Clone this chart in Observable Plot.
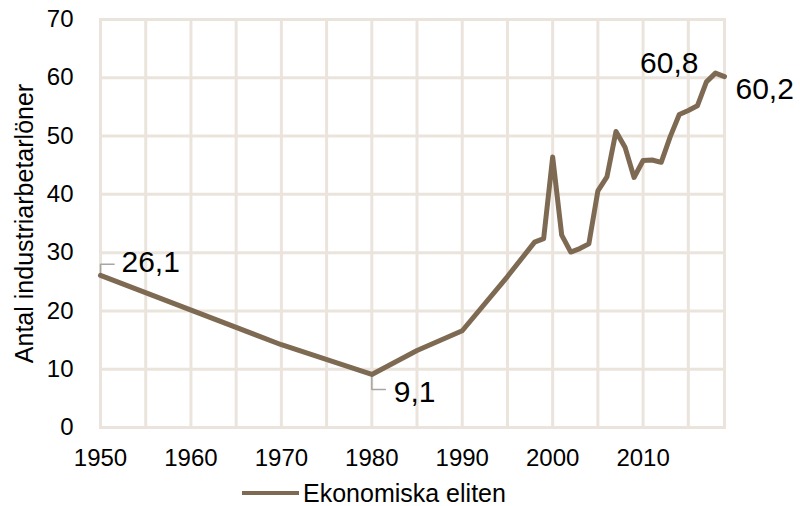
<!DOCTYPE html>
<html><head><meta charset="utf-8">
<script src="https://cdn.jsdelivr.net/npm/d3@7"></script>
<script src="https://cdn.jsdelivr.net/npm/@observablehq/plot@0.6"></script>
<style>
body{margin:0;background:#fff;font-family:"Liberation Sans",Arial,sans-serif;overflow:hidden;}
#wrap{position:relative;width:800px;height:506px;}
#legend{position:absolute;left:242px;top:481px;display:flex;align-items:center;font-size:25px;line-height:24px;height:24px;color:#000;white-space:nowrap;}
#legend .sw{display:inline-block;width:57px;height:4px;background:#7e6a53;margin-right:4px;}
</style></head><body>
<div id="wrap"><div id="chart"></div><div id="legend"><span class="sw"></span><span>Ekonomiska eliten</span></div></div>
<script>
const years  = [1950, 1970, 1980, 1985, 1990, 1995, 1998, 1999, 2000, 2001, 2002, 2003, 2004, 2005, 2006, 2007, 2008, 2009, 2010, 2011, 2012, 2013, 2014, 2015, 2016, 2017, 2018, 2019];
const values = [26.1, 14.2, 9.1, 13.2, 16.6, 25.9, 31.8, 32.4, 46.4, 33.0, 30.1, 30.7, 31.5, 40.6, 43.0, 50.8, 48.1, 42.9, 45.8, 45.9, 45.5, 49.9, 53.7, 54.4, 55.2, 59.3, 60.8, 60.2];
const xTicks = [1950, 1960, 1970, 1980, 1990, 2000, 2010];
const xGrid  = [1955, 1960, 1965, 1970, 1975, 1980, 1985, 1990, 1995, 2000, 2005, 2010, 2015];
const yTicks = [0, 10, 20, 30, 40, 50, 60, 70];
const labelYears = [1950, 1980, 2018, 2019];
const labelTexts = ["26,1", "9,1", "60,8", "60,2"];
const seriesName = "Ekonomiska eliten";
const yTitle = "Antal industriarbetarlöner";

const lineColor = "#7e6a53";
const gridColor = "#ebe4dc";

const data = years.map((year, i) => ({year, value: values[i]}));
const labels = labelYears.map((year, i) => ({year, value: values[years.indexOf(year)], text: labelTexts[i]}));
const lab = y => labels.filter(d => d.year === y);

const leaderUp = lab(1950).flatMap(d => [
  {year: d.year, value: d.value, k: "a"}, {year: d.year, value: d.value + 1.9, k: "a"}, {year: d.year + 1.5, value: d.value + 1.9, k: "a"}]);
const leaderDown = lab(1980).flatMap(d => [
  {year: d.year, value: d.value - 0.2, k: "b"}, {year: d.year, value: d.value - 2.6, k: "b"}, {year: d.year + 1.5, value: d.value - 2.6, k: "b"}]);

const plot = Plot.plot({
  width: 800,
  height: 472,
  marginLeft: 100,
  marginRight: 76,
  marginTop: 19,
  marginBottom: 45,
  style: {fontFamily: "'Liberation Sans', Arial, sans-serif", fontSize: "24px", color: "#000", background: "#fff", overflow: "visible"},
  x: {domain: [1950, 2019], axis: null},
  y: {domain: [0, 70], axis: null},
  marks: [
    Plot.ruleX(xGrid, {stroke: gridColor, strokeWidth: 3}),
    Plot.ruleY(yTicks, {stroke: gridColor, strokeWidth: 3}),
    Plot.frame({stroke: gridColor, strokeWidth: 3}),
    Plot.text(xTicks, {x: d => d, text: d => String(d), frameAnchor: "bottom", lineAnchor: "middle", dy: 31, fontSize: 24, fill: "#000"}),
    Plot.text(yTicks, {y: d => d, text: d => String(d), frameAnchor: "left", textAnchor: "end", lineAnchor: "middle", dx: -27, fontSize: 24, fill: "#000"}),
    Plot.text([yTitle], {frameAnchor: "left", text: d => d, textAnchor: "middle", lineAnchor: "middle", rotate: -90, dx: -76, fontSize: 25, fill: "#000"}),
    Plot.line(leaderUp, {x: "year", y: "value", z: "k", stroke: "#a6a6a6", strokeWidth: 1.5, strokeLinejoin: "miter"}),
    Plot.line(leaderDown, {x: "year", y: "value", z: "k", stroke: "#a6a6a6", strokeWidth: 1.5, strokeLinejoin: "miter"}),
    Plot.line(data, {x: "year", y: "value", stroke: lineColor, strokeWidth: 5, strokeLinejoin: "round"}),
    Plot.text(lab(1950), {x: "year", y: "value", text: "text", textAnchor: "start", dx: 21, dy: -13, fontSize: 30, fill: "#000"}),
    Plot.text(lab(1980), {x: "year", y: "value", text: "text", textAnchor: "start", dx: 22, dy: 18, fontSize: 30, fill: "#000"}),
    Plot.text(lab(2018), {x: "year", y: "value", text: "text", textAnchor: "end", dx: -17, dy: -10, fontSize: 30, fill: "#000"}),
    Plot.text(lab(2019), {x: "year", y: "value", text: "text", textAnchor: "start", dx: 11, dy: 13, fontSize: 30, fill: "#000"})
  ]
});
document.getElementById("chart").appendChild(plot);
</script>
</body></html>
